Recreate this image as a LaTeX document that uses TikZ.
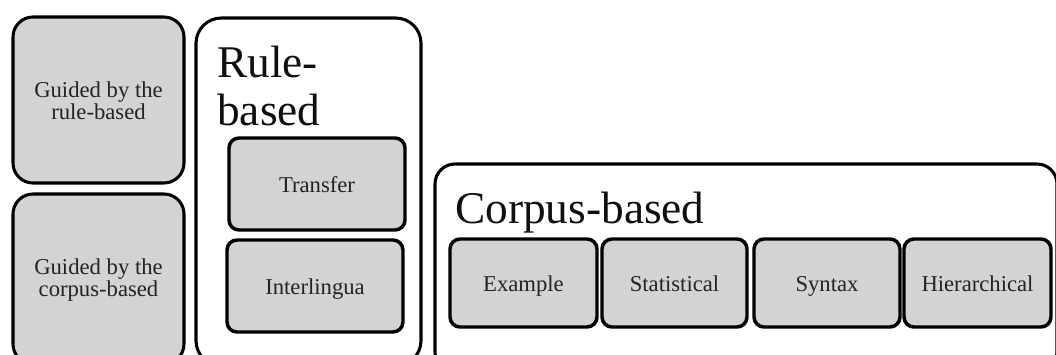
\documentclass[tikz,border=0pt]{standalone}
\usepackage{fontspec}
\setmainfont{Liberation Serif}
\definecolor{boxgray}{RGB}{211,211,211}
\definecolor{labeltext}{RGB}{35,35,35}
\definecolor{titletext}{RGB}{15,15,15}
\tikzset{
  x=0.75pt, y=-0.75pt,
  outerbox/.style={draw=black, line width=2.3pt, rounded corners=15pt, rectangle, inner sep=0pt},
  grayouter/.style={outerbox, fill=boxgray},
  innerbox/.style={draw=black, line width=2.6pt, fill=boxgray, rounded corners=7.5pt, rectangle, inner sep=0pt,
    font=\fontsize{17}{16.5}\selectfont, text=labeltext, align=center, text height=13pt, text depth=0pt},
  guidedlabel/.style={font=\fontsize{17}{16.5}\selectfont, text=labeltext, align=center},
  titlelabel/.style={font=\fontsize{34}{36}\selectfont, text=titletext, align=left, inner sep=0pt},
}
\begin{document}
\begin{tikzpicture}
\useasboundingbox (0,0) rectangle (1056,354);
\fill[white] (0,0) rectangle (1056,354);
\begin{scope}
\clip (0,0) rectangle (1056,354);
% left column
\draw[grayouter] (13,17) rectangle (184,183);
\node[guidedlabel] (g1) at (98.5,101) {Guided by the\\rule-based};
\draw[grayouter] (13,194) rectangle (184,364);
\node[guidedlabel] (g2) at (98.5,280) {Guided by the\\corpus-based};
% rule-based
\draw[outerbox, rounded corners=19pt] (196,18) rectangle (421,366);
\node[titlelabel, anchor=north west] (rule) at (217,46) {Rule-\\based};
\node[innerbox, minimum width=176*0.75pt, minimum height=92*0.75pt] (transfer) at (317,184) {Transfer};
\node[innerbox, minimum width=176*0.75pt, minimum height=92*0.75pt] (inter) at (315,286) {Interlingua};
% corpus-based
\draw[outerbox] (435,164) rectangle (1057,372);
\node[titlelabel, anchor=base west] (corpus) at (455,223) {Corpus-based};
\node[innerbox, minimum width=147*0.75pt, minimum height=88*0.75pt] (example) at (523.5,283) {Example};
\node[innerbox, minimum width=145*0.75pt, minimum height=88*0.75pt] (stat) at (674.5,283) {Statistical};
\node[innerbox, minimum width=146*0.75pt, minimum height=88*0.75pt] (syntax) at (827,283) {Syntax};
\node[innerbox, minimum width=147*0.75pt, minimum height=88*0.75pt] (hier) at (977.5,283) {Hierarchical};
\end{scope}
\end{tikzpicture}
\end{document}
